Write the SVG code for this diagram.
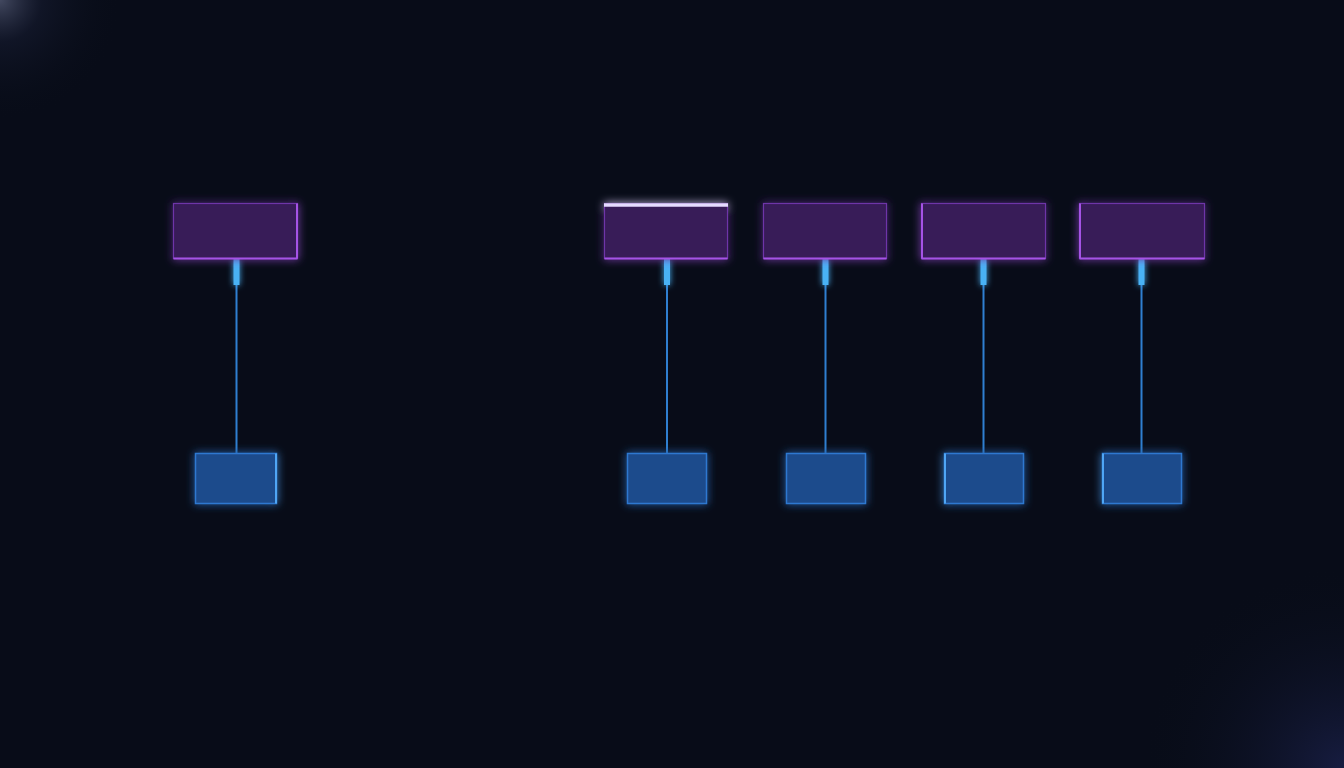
<svg xmlns="http://www.w3.org/2000/svg" width="1344" height="768" viewBox="0 0 1344 768">
<defs>
<radialGradient id="cTL" cx="0" cy="0" r="1" gradientUnits="userSpaceOnUse" gradientTransform="translate(0,0) scale(120)">
<stop offset="0" stop-color="#8a93b8" stop-opacity="0.45"/>
<stop offset="0.35" stop-color="#2a3152" stop-opacity="0.25"/>
<stop offset="1" stop-color="#0a0e1a" stop-opacity="0"/>
</radialGradient>
<radialGradient id="cBR" cx="0" cy="0" r="1" gradientUnits="userSpaceOnUse" gradientTransform="translate(1344,768) scale(200)">
<stop offset="0" stop-color="#232a62" stop-opacity="0.55"/>
<stop offset="1" stop-color="#0a0e1a" stop-opacity="0"/>
</radialGradient>
<filter id="glow" x="-30%" y="-30%" width="160%" height="160%">
<feGaussianBlur stdDeviation="4" result="b"/>
<feMerge><feMergeNode in="b"/><feMergeNode in="SourceGraphic"/></feMerge>
</filter>
<filter id="glow2" x="-200%" y="-50%" width="500%" height="200%">
<feGaussianBlur stdDeviation="3" result="b"/>
<feMerge><feMergeNode in="b"/><feMergeNode in="SourceGraphic"/></feMerge>
</filter>
</defs>
<style>
.top{fill:#391b59;stroke:#6e35a8;stroke-width:1.2}
.topEdge{stroke:#a552e6;stroke-width:2}
.bot{fill:#1d4c8c;stroke:#2f78d0;stroke-width:1.5}
.botEdge{stroke:#4fa6f5;stroke-width:2}
.stub{fill:#4ab2f5}
.line{stroke:#2f7fd0;stroke-width:2}
</style>
<rect width="1344" height="768" fill="#080c18"/>
<rect width="1344" height="768" fill="url(#cTL)"/>
<rect width="1344" height="768" fill="url(#cBR)"/>

<g id="connectors">
<line class="line" x1="236.5" y1="285" x2="236.5" y2="453"/>
<line class="line" x1="667" y1="285" x2="667" y2="453"/>
<line class="line" x1="825.5" y1="285" x2="825.5" y2="453"/>
<line class="line" x1="983.5" y1="285" x2="983.5" y2="453"/>
<line class="line" x1="1141.5" y1="285" x2="1141.5" y2="453"/>
<g filter="url(#glow2)">
<rect class="stub" x="233.5" y="259" width="6" height="26"/>
<rect class="stub" x="664" y="259" width="6" height="26"/>
<rect class="stub" x="822.5" y="259" width="6" height="26"/>
<rect class="stub" x="980.5" y="259" width="6" height="26"/>
<rect class="stub" x="1138.5" y="259" width="6" height="26"/>
</g>
</g>

<g id="top1" filter="url(#glow)">
<rect class="top" x="173.5" y="203.5" width="124" height="55"/>
<line class="topEdge" x1="173.5" y1="258.5" x2="297.5" y2="258.5"/>
<line class="topEdge" x1="297" y1="203.5" x2="297" y2="258.5"/>
</g>
<g id="top2" filter="url(#glow)">
<rect class="top" x="604.5" y="203.5" width="123" height="55"/>
<line class="topEdge" x1="604.5" y1="258.5" x2="727.5" y2="258.5"/>
<line x1="604" y1="205" x2="728" y2="205" stroke="#e6dcff" stroke-width="3.5"/>
</g>
<g id="top3" filter="url(#glow)">
<rect class="top" x="763.5" y="203.5" width="123" height="55"/>
<line class="topEdge" x1="763.5" y1="258.5" x2="886.5" y2="258.5"/>
</g>
<g id="top4" filter="url(#glow)">
<rect class="top" x="921.5" y="203.5" width="124" height="55"/>
<line class="topEdge" x1="921.5" y1="258.5" x2="1045.5" y2="258.5"/>
<line class="topEdge" x1="922" y1="203.5" x2="922" y2="258.5"/>
</g>
<g id="top5" filter="url(#glow)">
<rect class="top" x="1079.5" y="203.5" width="125" height="55"/>
<line class="topEdge" x1="1079.5" y1="258.5" x2="1204.5" y2="258.5"/>
<line class="topEdge" x1="1080" y1="203.5" x2="1080" y2="258.5"/>
</g>

<g id="bot1" filter="url(#glow)">
<rect class="bot" x="195.5" y="453.5" width="81" height="50"/>
<line class="botEdge" x1="276" y1="453.5" x2="276" y2="503.5"/>
</g>
<g id="bot2" filter="url(#glow)">
<rect class="bot" x="627.5" y="453.5" width="79" height="50"/>
</g>
<g id="bot3" filter="url(#glow)">
<rect class="bot" x="786.5" y="453.5" width="79" height="50"/>
</g>
<g id="bot4" filter="url(#glow)">
<rect class="bot" x="944.5" y="453.5" width="79" height="50"/>
<line class="botEdge" x1="945" y1="453.5" x2="945" y2="503.5"/>
</g>
<g id="bot5" filter="url(#glow)">
<rect class="bot" x="1102.5" y="453.5" width="79" height="50"/>
<line class="botEdge" x1="1103" y1="453.5" x2="1103" y2="503.5"/>
</g>
</svg>
